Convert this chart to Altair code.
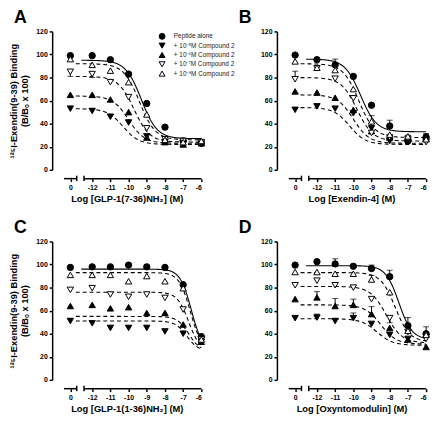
import altair as alt
import pandas as pd

FONT = "Liberation Sans"

series = ["Peptide alone", "+ 10⁻⁵M Compound 2", "+ 10⁻⁶M Compound 2",
          "+ 10⁻⁷M Compound 2", "+ 10⁻⁸M Compound 2"]
shapes = ["circle", "triangle-down", "triangle-up", "triangle-down", "triangle-up"]
fills = ["black", "black", "black", "white", "white"]
dashes = [[1, 0], [4, 3], [4, 3], [4, 3], [4, 3]]

dose_labels = ["0", "-12", "-11", "-10", "-9", "-8", "-7", "-6"]
dose_pos = [-13.2, -12, -11, -10, -9, -8, -7, -6]

# ---- Panel A : GLP-1(7-36)NH2 ----
A_vals = [
    [99, 99, 95.5, 83, 57.5, 37, 25, 23],
    [53, 51, 46, 41, 29, 24, 23, 23],
    [65, 65, 61, 50, 28, 24, 22, 23],
    [85, 83, 76, 63, 36, 26.5, 25, 24],
    [96, 91, 86, 76, 48, 26, 24, 25],
]
A_top = [95, 53, 64, 81, 92]
A_bottom = [27, 22, 23, 24, 26]
A_ic = [-9.3, -10.3, -10.0, -9.7, -9.4]
A_hill = [1, 1, 1, 1, 1]
A_err = [(3, 0, -4), (3, 1, -3), (4, 0, 3)]

# ---- Panel B : Exendin-4 ----
B_vals = [
    [99.5, 95.5, 91, 81, 56, 38, 25, 28.5],
    [52, 55, 53, 49, 36, 25, 24, 25],
    [68, 67, 62.5, 52, 33.5, 28, 26.5, 27],
    [78.5, 88, 79, 62, 32, 28, 27, 24],
    [94, 88.5, 86.5, 70, 42, 30.5, 29, 26.5],
]
B_top = [96, 54, 65, 80, 92]
B_bottom = [33, 22, 23, 25, 28]
B_ic = [-9.6, -10.2, -10.0, -9.8, -9.7]
B_hill = [1, 1, 1, 1, 1]
B_err = [(0, 2, 5), (3, 0, 7), (4, 4, 5), (0, 5, 5), (0, 6, 5), (0, 7, 3)]

# ---- Panel C : GLP-1(1-36)NH2 ----
C_vals = [
    [97.5, 98, 98, 99.5, 98, 97.5, 82.5, 37.5],
    [51, 49, 45, 45, 45, 42, 40, 33],
    [64, 65, 62, 63, 58, 58, 48, 33],
    [78, 79.5, 74, 72, 74, 71, 61, 35],
    [91, 91, 91, 85.5, 90, 85.5, 79.5, 35],
]
C_top = [96, 51, 55, 76, 93]
C_bottom = [25, 25, 25, 25, 25]
C_ic = [-6.55, -6.8, -6.7, -6.7, -6.6]
C_hill = [1.4, 1.4, 1.4, 1.4, 1.4]
C_err = []

# ---- Panel D : Oxyntomodulin ----
D_vals = [
    [99.5, 102.5, 100.5, 98.5, 96.5, 89.5, 47, 40],
    [53.5, 54, 51, 53.5, 48.5, 39, 35.5, 37],
    [70, 71.5, 64, 65, 57, 45, 35, 28.5],
    [82, 86, 82, 80, 70, 53.5, 41.5, 35.5],
    [93.5, 93.5, 92, 92, 87, 76, 42.5, 39],
]
D_top = [99, 53, 65, 81, 93]
D_bottom = [35, 30, 31, 32, 33]
D_ic = [-7.5, -8.7, -8.5, -8.2, -7.7]
D_hill = [1.2, 1, 1, 1, 1.1]
D_err = [(0, 2, 4.5), (0, 4, 3), (0, 5, 5.5), (0, 6, 7), (0, 7, 6),
         (4, 4, 3.5), (2, 1, 5), (2, 2, 6.5), (2, 3, 5), (2, 4, 6.5),
         (1, 1, 3), (1, 3, 4.5), (3, 5, -4)]

W, H = 152, 141
curve_start = [-12.6, -12.9, -12.9, -12.9, -12.9]

shape_scale = alt.Scale(domain=series, range=shapes)
fill_scale = alt.Scale(domain=series, range=fills)


def panel(letter, vals, top, bottom, ic, hill, errs, xtitle, ytitle, show_legend):
    pts = pd.DataFrame([
        {"series": series[i], "pos": dose_pos[j], "v": vals[i][j]}
        for i in range(len(series)) for j in range(len(dose_pos))
    ])
    prm = pd.DataFrame({"series": series, "top": top, "bottom": bottom,
                        "ic": ic, "hill": hill, "start": curve_start})
    err_df = pd.DataFrame([
        {"series": series[s], "pos": dose_pos[d], "v": vals[s][d],
         "v2": vals[s][d] + e}
        for (s, d, e) in errs
    ], columns=["series", "pos", "v", "v2"])

    xscale = alt.Scale(domain=[-14.2, -6], nice=False, zero=False)
    yscale = alt.Scale(domain=[0, 120], nice=False)
    xaxis = alt.Axis(values=dose_pos, domain=False, offset=9, tickSize=3,
                     tickWidth=1.5, grid=False, labelPadding=2,
                     labelExpr="datum.value < -12.5 ? '0' : '-' + format(-datum.value, 'd')",
                     title=xtitle, titlePadding=3)
    yaxis = alt.Axis(values=[0, 20, 40, 60, 80, 100, 120], grid=False, tickSize=3,
                     tickWidth=1.5, labelPadding=2, titlePadding=6,
                     title=ytitle if ytitle else None)

    base_x = alt.X("pos:Q", scale=xscale, axis=xaxis)
    base_y = alt.Y("v:Q", scale=yscale, axis=yaxis)

    shape = alt.Shape("series:N", scale=shape_scale, legend=None)
    fill = alt.Fill("series:N", scale=fill_scale, legend=None)

    curves = alt.Chart(prm).transform_calculate(
        xs="sequence(datum.start, -5.99, 0.05)"
    ).transform_flatten(["xs"]).transform_calculate(
        yv="datum.bottom + (datum.top - datum.bottom) / (1 + pow(10, (datum.xs - datum.ic) * datum.hill))"
    ).mark_line(color="black", strokeWidth=1.1).encode(
        x=alt.X("xs:Q", scale=xscale, axis=xaxis),
        y=alt.Y("yv:Q", scale=yscale, axis=yaxis),
        detail="series:N",
        strokeDash=alt.StrokeDash("series:N", scale=alt.Scale(domain=series, range=dashes),
                                  legend=None),
    )

    err_rule = alt.Chart(err_df).mark_rule(color="black", strokeWidth=1).encode(
        x=base_x, y=base_y, y2="v2:Q")
    err_cap = alt.Chart(err_df).mark_tick(color="black", size=6, thickness=1,
                                         orient="horizontal").encode(
        x=base_x, y=alt.Y("v2:Q", scale=yscale, axis=yaxis))

    points = alt.Chart(pts).mark_point(filled=True, size=42, stroke="black",
                                       strokeWidth=1, opacity=1).encode(
        x=base_x, y=base_y, shape=shape, fill=fill)

    # broken x-axis line
    yline = H + 9
    seg = alt.Chart(pd.DataFrame({"a": [-13.55, -12.45], "b": [-12.85, -6]})).mark_rule(
        color="black", strokeWidth=1.5).encode(
        x=alt.X("a:Q", scale=xscale, axis=xaxis), x2="b:Q", y=alt.value(yline))
    brk = alt.Chart(pd.DataFrame({"a": [-12.85, -12.45]})).mark_rule(
        color="black", strokeWidth=1.5).encode(
        x=alt.X("a:Q", scale=xscale, axis=xaxis), y=alt.value(yline - 3), y2=alt.value(yline + 2.5))

    body = alt.layer(seg, brk, err_rule, err_cap, curves, points)

    if show_legend:
        leg_df = pd.DataFrame({"series": series})
        leg_y = alt.Y("series:N", sort=series, axis=None,
                      scale=alt.Scale(range=[5, 43], padding=0))
        leg_sym = alt.Chart(leg_df).mark_point(filled=True, size=36, stroke="black",
                                               strokeWidth=1, opacity=1).encode(
            x=alt.value(112), y=leg_y, shape=shape, fill=fill)
        leg_txt = alt.Chart(leg_df).mark_text(
            align="left", baseline="middle", font=FONT, fontSize=6.5, color="#222"
        ).encode(x=alt.value(124), y=leg_y, text="series:N")
        body = alt.layer(body, leg_sym, leg_txt).resolve_scale(y="independent")

    return body.properties(
        width=W, height=H,
        title=alt.TitleParams(letter, anchor="start", frame="group", dx=-39,
                              fontSize=18, fontWeight="bold", font=FONT, offset=1),
    )


ytitle = ["¹²⁵I-Exendin(9-39) Binding", "(B/Bₒ x 100)"]
pA = panel("A", A_vals, A_top, A_bottom, A_ic, A_hill, A_err,
           "Log [GLP-1(7-36)NH₂] (M)", ytitle, True)
pB = panel("B", B_vals, B_top, B_bottom, B_ic, B_hill, B_err,
           "Log [Exendin-4] (M)", None, False)
pC = panel("C", C_vals, C_top, C_bottom, C_ic, C_hill, C_err,
           "Log [GLP-1(1-36)NH₂] (M)", ytitle, False)
pD = panel("D", D_vals, D_top, D_bottom, D_ic, D_hill, D_err,
           "Log [Oxyntomodulin] (M)", None, False)

chart = alt.concat(
    pA, pB, pC, pD, columns=2, spacing={"row": 73, "column": 77}, bounds="flush",
).properties(
    padding={"left": 0, "top": -3, "right": 0, "bottom": 0},
).configure_view(stroke=None).configure_axis(
    labelFont=FONT, labelFontWeight="bold", labelFontSize=7, labelColor="black",
    titleFont=FONT, titleFontWeight="bold", titleFontSize=9.5, titleColor="black",
    domainColor="black", domainWidth=1.5, tickColor="black",
)

chart.save("out.html", embed_options={"renderer": "svg", "actions": False})
